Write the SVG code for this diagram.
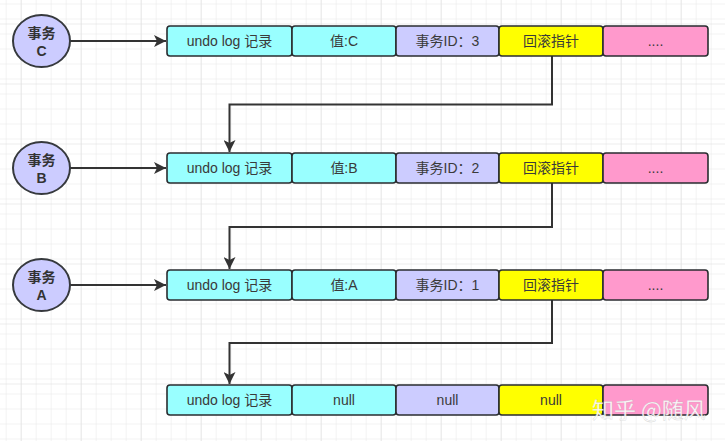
<svg xmlns="http://www.w3.org/2000/svg" width="725" height="441" viewBox="0 0 725 441">
<defs>
<pattern id="minor" x="5.7" y="3.5" width="15" height="15" patternUnits="userSpaceOnUse">
<path d="M0 0 H15 M0 0 V15" fill="none" stroke="#e8e8e8" stroke-width="1"/>
</pattern>
<pattern id="major" x="20.7" y="23.5" width="60" height="60" patternUnits="userSpaceOnUse">
<path d="M0 0 H60 M0 0 V60" fill="none" stroke="#dcdcdc" stroke-width="1"/>
</pattern>
<marker id="arr" viewBox="0 0 10 10" refX="10" refY="5" markerWidth="6" markerHeight="6" orient="auto" markerUnits="strokeWidth">
<path d="M0 0 L10 5 L0 10 L2.5 5 Z" fill="#333"/>
</marker>
</defs>
<style>
.circ{fill:#ccccff;stroke:#36393d;stroke-width:2}
.box{stroke:#2a2d30;stroke-width:1.6}
.cy{fill:#99ffff}
.lv{fill:#ccccff}
.yl{fill:#ffff00}
.pk{fill:#ff99cc}
.t{font-family:"Liberation Sans","Noto Sans CJK SC",sans-serif;font-size:14px;fill:#3a3a3a;text-anchor:middle}
.ct{font-family:"Liberation Sans","Noto Sans CJK SC",sans-serif;font-size:14px;font-weight:bold;fill:#333;text-anchor:middle}
.edge{fill:none;stroke:#333;stroke-width:2}
.wm{font-family:"Noto Sans CJK SC",sans-serif;font-size:22px;fill:#ffffff;fill-opacity:0.92;stroke:#aaaaaa;stroke-width:0.4;stroke-opacity:0.5}
</style>
<rect width="725" height="441" fill="#ffffff"/>
<rect width="725" height="441" fill="url(#minor)"/>
<rect width="725" height="441" fill="url(#major)"/>

<g id="connectors">
<path class="edge" d="M70 41 H166" marker-end="url(#arr)"/>
<path class="edge" d="M70 168 H166" marker-end="url(#arr)"/>
<path class="edge" d="M70 285 H166" marker-end="url(#arr)"/>
<path class="edge" d="M552 56 V104.5 H229.5 V152" marker-end="url(#arr)"/>
<path class="edge" d="M552 183 V227 H229.5 V269" marker-end="url(#arr)"/>
<path class="edge" d="M552 300 V343 H229.5 V384" marker-end="url(#arr)"/>
</g>

<g id="txC">
<ellipse class="circ" cx="41.5" cy="41" rx="28.5" ry="26"/>
<text class="ct" x="41.5" y="38">事务</text>
<text class="ct" x="41.5" y="56">C</text>
</g>
<g id="txB">
<ellipse class="circ" cx="41.5" cy="168" rx="28.5" ry="26"/>
<text class="ct" x="41.5" y="165">事务</text>
<text class="ct" x="41.5" y="183">B</text>
</g>
<g id="txA">
<ellipse class="circ" cx="41.5" cy="285" rx="28.5" ry="26"/>
<text class="ct" x="41.5" y="282">事务</text>
<text class="ct" x="41.5" y="300">A</text>
</g>

<g id="row1">
<rect class="box cy" x="167" y="26" width="125" height="30" rx="3"/>
<rect class="box cy" x="292" y="26" width="104" height="30" rx="3"/>
<rect class="box lv" x="396" y="26" width="103" height="30" rx="3"/>
<rect class="box yl" x="499" y="26" width="104" height="30" rx="3"/>
<rect class="box pk" x="603" y="26" width="105" height="30" rx="3"/>
<text class="t" x="229.5" y="46">undo log 记录</text>
<text class="t" x="344" y="46">值:C</text>
<text class="t" x="447.5" y="46">事务ID：3</text>
<text class="t" x="551" y="46">回滚指针</text>
<text class="t" x="655.5" y="46">....</text>
</g>

<g id="row2">
<rect class="box cy" x="167" y="153" width="125" height="30" rx="3"/>
<rect class="box cy" x="292" y="153" width="104" height="30" rx="3"/>
<rect class="box lv" x="396" y="153" width="103" height="30" rx="3"/>
<rect class="box yl" x="499" y="153" width="104" height="30" rx="3"/>
<rect class="box pk" x="603" y="153" width="105" height="30" rx="3"/>
<text class="t" x="229.5" y="173">undo log 记录</text>
<text class="t" x="344" y="173">值:B</text>
<text class="t" x="447.5" y="173">事务ID：2</text>
<text class="t" x="551" y="173">回滚指针</text>
<text class="t" x="655.5" y="173">....</text>
</g>

<g id="row3">
<rect class="box cy" x="167" y="270" width="125" height="30" rx="3"/>
<rect class="box cy" x="292" y="270" width="104" height="30" rx="3"/>
<rect class="box lv" x="396" y="270" width="103" height="30" rx="3"/>
<rect class="box yl" x="499" y="270" width="104" height="30" rx="3"/>
<rect class="box pk" x="603" y="270" width="105" height="30" rx="3"/>
<text class="t" x="229.5" y="290">undo log 记录</text>
<text class="t" x="344" y="290">值:A</text>
<text class="t" x="447.5" y="290">事务ID：1</text>
<text class="t" x="551" y="290">回滚指针</text>
<text class="t" x="655.5" y="290">....</text>
</g>

<g id="row4">
<rect class="box cy" x="167" y="385" width="125" height="30" rx="3"/>
<rect class="box cy" x="292" y="385" width="104" height="30" rx="3"/>
<rect class="box lv" x="396" y="385" width="103" height="30" rx="3"/>
<rect class="box yl" x="499" y="385" width="104" height="30" rx="3"/>
<rect class="box pk" x="603" y="385" width="105" height="30" rx="3"/>
<text class="t" x="229.5" y="405">undo log 记录</text>
<text class="t" x="344" y="405">null</text>
<text class="t" x="447.5" y="405">null</text>
<text class="t" x="551" y="405">null</text>
</g>

<text class="wm" x="592" y="418">知乎 @随风</text>
</svg>
